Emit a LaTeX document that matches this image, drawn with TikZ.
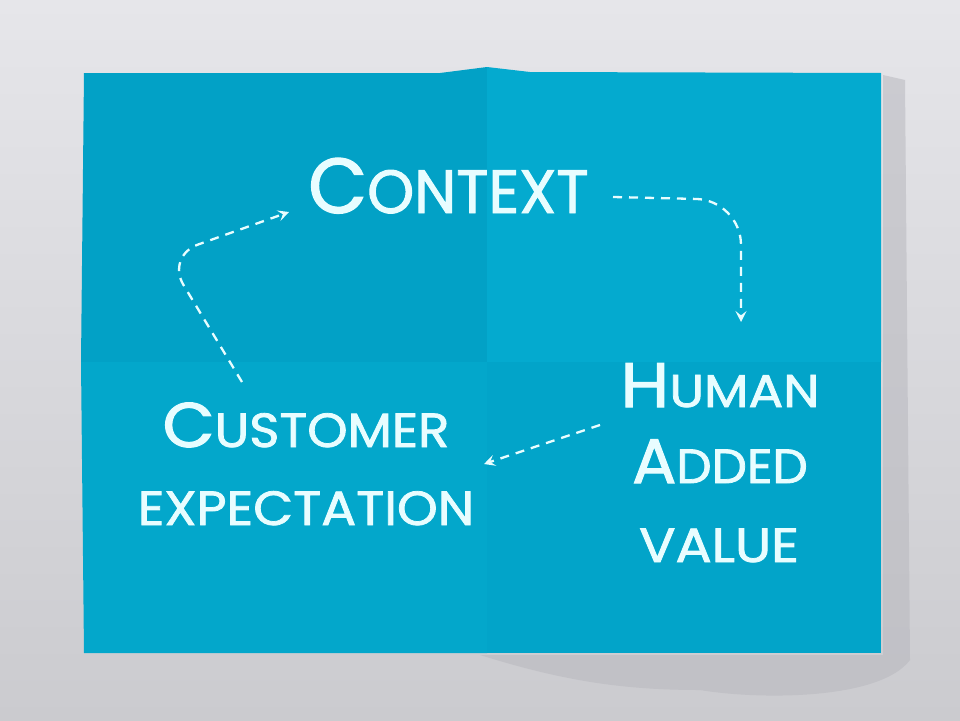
\documentclass[tikz,border=0pt]{standalone}
\usepackage{fontspec}
\usepackage{graphicx}
\setmainfont{Poppins}[FakeBold=1.6]
\usetikzlibrary{arrows.meta}
\definecolor{bgA}{HTML}{E6E6EA}
\definecolor{bgB}{HTML}{CBCBCF}
\definecolor{shadowc}{HTML}{B8B8BE}
\definecolor{paperA}{HTML}{02A1C6}
\definecolor{paperB}{HTML}{04AACF}
\definecolor{paperC}{HTML}{03A7CB}
\definecolor{paperD}{HTML}{02A4C9}
\definecolor{chalk}{HTML}{E8FDFF}
\newcommand\Sc[4]{{\fontsize{#1}{#1}\selectfont #3}{\fontsize{#2}{#2}\selectfont #4}}
\tikzset{
  label text/.style={text=chalk, inner sep=0pt},
  flow/.style={draw=chalk, line width=2.3pt, dash pattern=on 9pt off 7pt,
    -{Stealth[length=11pt,width=11pt,inset=4.5pt]}},
}
\begin{document}
\begin{tikzpicture}[x=1pt,y=-1pt]
\useasboundingbox (0,0) rectangle (960,720);
% background
\shade[top color=bgA,bottom color=bgB] (0,0) rectangle (960,720);
% shadow of the paper
\fill[shadowc, opacity=.55] (883,75) -- (905,80) -- (910,660) .. controls (880,700) and (760,700) .. (700,690)
   .. controls (620,690) and (560,680) .. (480,655) -- (883,655) -- cycle;
% paper quadrants
\fill[paperA] (84,73) -- (440,73) -- (487,67) -- (487,362) -- (81,362) -- cycle;
\fill[paperB] (487,67) -- (530,72) -- (881,73) -- (881,362) -- (487,362) -- cycle;
\fill[paperC] (81,362) -- (487,362) -- (487,653) -- (84,653) -- cycle;
\fill[paperD] (487,362) -- (881,362) -- (881,653) -- (487,653) -- cycle;
% texts
\node[label text, anchor=base west] (ctx) at (308,213) {\scalebox{0.98}[1]{\Sc{78}{61}{C}{ONTEXT}}};
\node[label text, anchor=base] (hum1) at (720,407) {\scalebox{1.12}[1]{\Sc{63}{46}{H}{UMAN}}};
\node[label text, anchor=base] (hum2) at (720,483) {\scalebox{1.04}[1]{\Sc{63}{48}{A}{DDED}}};
\node[label text, anchor=base] (hum3) at (719,562) {\scalebox{1.12}[1]{\Sc{48}{48}{}{VALUE}}};
\node[label text, anchor=base] (cust1) at (306,447) {\scalebox{1.07}[1]{\Sc{63}{48}{C}{USTOMER}}};
\node[label text, anchor=base] (cust2) at (306,525) {\scalebox{1.08}[1]{\Sc{48}{48}{}{EXPECTATION}}};
% connector points
\coordinate (c1s) at (242,382);
\coordinate (c1m) at (166,256);
\coordinate (c1e) at (289,212);
\coordinate (c2s) at (613,197);
\coordinate (c2m) at (741,200);
\coordinate (c2e) at (741,322);
\coordinate (c3s) at (600,425);
\coordinate (c3e) at (484,464);
% connectors
\draw[flow, rounded corners=34pt] (c1s) -- (c1m) -- (c1e);
\draw[flow, rounded corners=45pt] (c2s) -- (c2m) -- (c2e);
\draw[flow] (c3s) -- (c3e);
\end{tikzpicture}
\end{document}
